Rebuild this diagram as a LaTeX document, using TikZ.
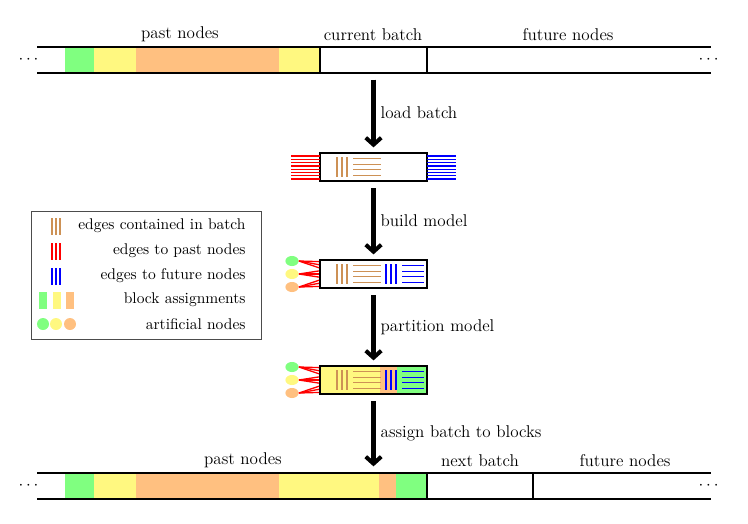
\documentclass[tikz,border=0pt]{standalone}
\usepackage{amsfonts}
\usepackage{amsmath}
\usepackage{amssymb}
\usepackage{tikz}
\usetikzlibrary{positioning,shapes.geometric,arrows.meta}

\definecolor{blockgreen}{RGB}{128,255,128}
\definecolor{blockyellow}{RGB}{255,248,128}
\definecolor{blockorange}{RGB}{255,192,128}
\definecolor{edgebrown}{RGB}{205,145,85}

\begin{document}
\begin{tikzpicture}[x=0.645pt,y=-0.645pt,
  lab/.style={font=\fontsize{11}{13}\selectfont},
  band/.style={line width=1.3pt},
  batch/.style={draw,line width=1.3pt,minimum width=69pt,minimum height=18pt,inner sep=0pt},
  slot/.style={minimum width=69pt,minimum height=16.8pt,inner sep=0pt},
  bigarrow/.style={-{Straight Barb[length=4.5pt,width=10pt]},line width=2.6pt,shorten <=4pt,shorten >=3pt},
  inedge/.style={line width=0.85pt},
  artnode/.style={ellipse,minimum width=8.5pt,minimum height=6.5pt,inner sep=0pt}]
  \useasboundingbox (0,0) rectangle (748,523);

  % top band
  \fill[blockgreen]  (65,47)  rectangle (94,73);
  \fill[blockyellow] (94,47)  rectangle (136,73);
  \fill[blockorange] (136,47) rectangle (279,73);
  \fill[blockyellow] (279,47) rectangle (320,73);
  \draw[band] (37,47) -- (711,47) (37,73) -- (711,73);
  \draw[band] (320,47) -- (320,73) (427,47) -- (427,73);
  \node[lab] (dotsTL) at (30,60)  {$\cdots$};
  \node[lab] (dotsTR) at (710,60) {$\cdots$};
  \node[lab] (pastT)   at (180,34) {past nodes};
  \node[lab] (curT)    at (373,35) {current batch};
  \node[lab] (futureT) at (568,35) {future nodes};
  \node[slot] (cur) at (373.5,60) {};

  % bottom band
  \fill[blockgreen]  (65,473)  rectangle (94,499);
  \fill[blockyellow] (94,473)  rectangle (136,499);
  \fill[blockorange] (136,473) rectangle (279,499);
  \fill[blockyellow] (279,473) rectangle (379,499);
  \fill[blockorange] (379,473) rectangle (396,499);
  \fill[blockgreen]  (396,473) rectangle (427,499);
  \draw[band] (37,473) -- (711,473) (37,499) -- (711,499);
  \draw[band] (427,473) -- (427,499) (533,473) -- (533,499);
  \node[lab] (dotsBL) at (30,486)  {$\cdots$};
  \node[lab] (dotsBR) at (710,486) {$\cdots$};
  \node[lab] (pastB)   at (243,460) {past nodes};
  \node[lab] (nextB)   at (480,461) {next batch};
  \node[lab] (futureB) at (625,461) {future nodes};
  \coordinate (nextpos) at (373.5,471);

  % batches
  \fill[blockyellow] (320,366) rectangle (380,394);
  \fill[blockorange] (380,366) rectangle (397,394);
  \fill[blockgreen]  (397,366) rectangle (427,394);
  \node[batch] (batchA) at (373.5,167) {};
  \node[batch] (batchB) at (373.5,274) {};
  \node[batch] (batchC) at (373.5,380) {};

  \foreach \yc in {167,274,380} {
    \foreach \x in {337,342,347}
      \draw[inedge,edgebrown] (\x,\yc-10) -- (\x,\yc+10);
    \foreach \d in {-8.25,-2.75,2.75,8.25}
      \draw[inedge,edgebrown] (353,\yc+\d) -- (381,\yc+\d);
  }
  \foreach \yc in {274,380} {
    \foreach \x in {386,391,396}
      \draw[inedge,blue] (\x,\yc-10) -- (\x,\yc+10);
    \foreach \d in {-8.25,-2.75,2.75,8.25}
      \draw[inedge,blue] (402,\yc+\d) -- (424,\yc+\d);
  }
  \foreach \k in {0,...,7} {
    \draw[inedge,red]  (291,156+3.3*\k) -- (320,156+3.3*\k);
    \draw[inedge,blue] (427,156+3.3*\k) -- (456,156+3.3*\k);
  }

  % artificial nodes
  \node[artnode,fill=blockgreen]  (gB) at (292,261) {};
  \node[artnode,fill=blockyellow] (yB) at (292,274) {};
  \node[artnode,fill=blockorange] (oB) at (292,287) {};
  \node[artnode,fill=blockgreen]  (gC) at (292,367) {};
  \node[artnode,fill=blockyellow] (yC) at (292,380) {};
  \node[artnode,fill=blockorange] (oC) at (292,393) {};
  \foreach \b in {B,C} {
    \foreach \s in {8,6,4}
      \draw[inedge,red] (g\b.east) -- ([yshift=\s pt]batch\b.west);
    \foreach \s in {2,0,-2}
      \draw[inedge,red] (y\b.east) -- ([yshift=\s pt]batch\b.west);
    \foreach \s in {-4,-6,-8}
      \draw[inedge,red] (o\b.east) -- ([yshift=\s pt]batch\b.west);
  }

  % steps
  \path[bigarrow]
    (cur)    edge node[lab,right] {load batch}             (batchA)
    (batchA) edge node[lab,right] {build model}            (batchB)
    (batchB) edge node[lab,right] {partition model}        (batchC)
    (batchC) edge node[lab,right] {assign batch to blocks} (nextpos);

  % legend
  \draw[gray!60!black,line width=0.5pt] (31,211) rectangle (261,339);
  \foreach \x in {52,56,60} {
    \draw[inedge,edgebrown] (\x,218) -- (\x,235);
    \draw[inedge,red]       (\x,243) -- (\x,260);
    \draw[inedge,blue]      (\x,268) -- (\x,285);
  }
  \fill[blockgreen]  (39,292) rectangle (47,309);
  \fill[blockyellow] (53,292) rectangle (61,309);
  \fill[blockorange] (66,292) rectangle (74,309);
  \fill[blockgreen]  (43,324) circle (6);
  \fill[blockyellow] (56,324) circle (6);
  \fill[blockorange] (70,324) circle (6);
  \node[anchor=east] (legA) at (251,226) {edges contained in batch};
  \node[anchor=east] (legB) at (251,251) {edges to past nodes};
  \node[anchor=east] (legC) at (251,276) {edges to future nodes};
  \node[anchor=east] (legD) at (251,300) {block assignments};
  \node[anchor=east] (legE) at (251,324) {artificial nodes};
\end{tikzpicture}
\end{document}
